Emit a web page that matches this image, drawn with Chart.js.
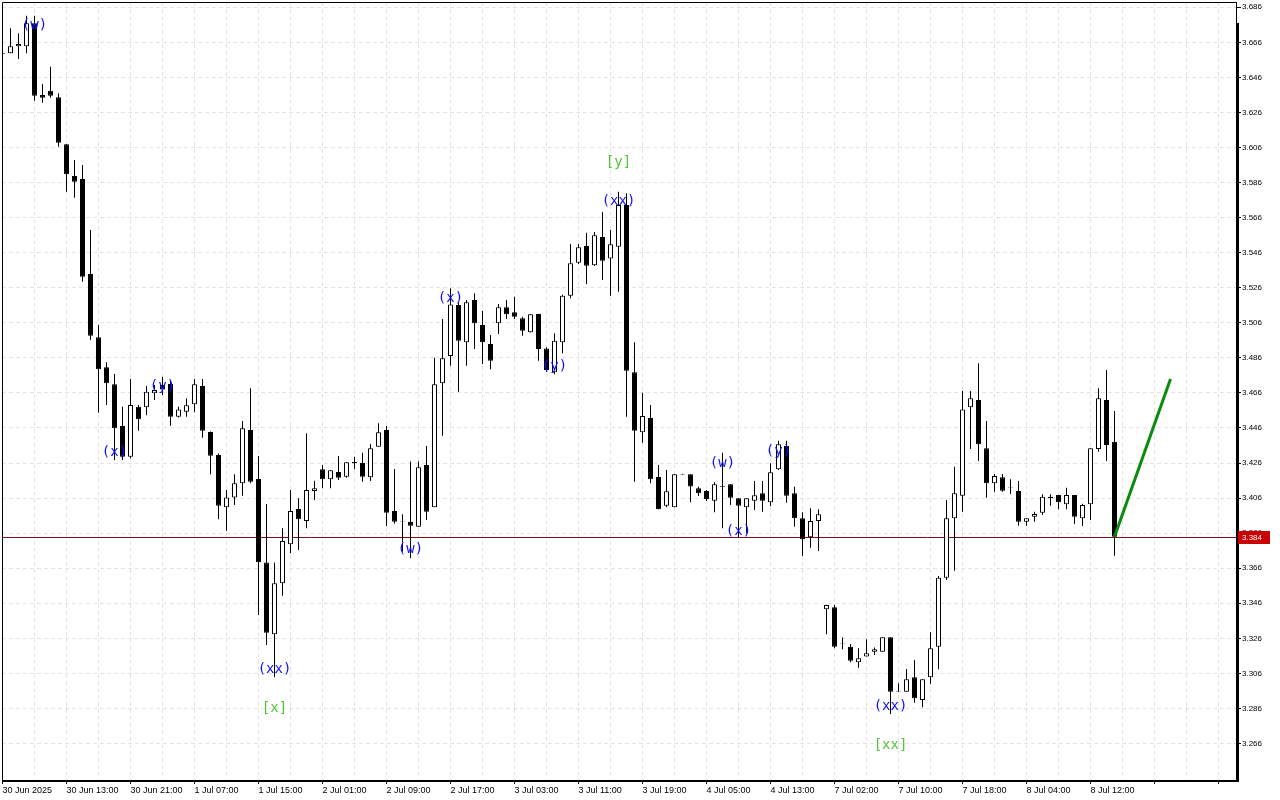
<!DOCTYPE html>
<html><head><meta charset="utf-8">
<script src="https://cdn.jsdelivr.net/npm/chart.js@4.4.1/dist/chart.umd.min.js"></script>
<style>html,body{margin:0;padding:0;background:#fff;overflow:hidden}#wrap{width:1280px;height:800px;position:relative}</style>
</head><body><div id="wrap"><canvas id="c" width="1280" height="800"></canvas></div>
<script>
// ---- data (hourly candles, bar index 0..139) ----
const opens = [3.6592,3.6597,3.6637,3.6637,3.6768,3.6360,3.6384,3.6346,3.6078,3.5897,
3.5880,3.5338,3.4977,3.4806,3.4709,3.4471,3.4296,3.4581,3.4578,3.4658,
3.4705,3.4711,3.4524,3.4553,3.4595,3.4699,3.4437,3.4306,3.4007,3.4064,
3.4144,3.4448,3.4169,3.3692,3.3283,3.3574,3.3796,3.3998,3.3929,3.4100,
3.4224,3.4167,3.4209,3.4182,3.4266,3.4260,3.4179,3.4353,3.4448,3.3986,
3.3928,3.3925,3.3897,3.4249,3.4007,3.4715,3.4871,3.5161,3.4949,3.5190,
3.5047,3.4939,3.5057,3.5148,3.5120,3.5086,3.5006,3.5110,3.4914,3.4778,
3.4949,3.5214,3.5403,3.5498,3.5388,3.5549,3.5426,3.5494,3.5732,3.4778,
3.4435,3.4517,3.4180,3.4016,3.4007,3.4196,3.4196,3.4116,3.4100,3.4045,
3.4128,3.4139,3.4059,3.4007,3.4045,3.4087,3.4036,3.4224,3.4357,3.4087,
3.3945,3.3836,3.3929,3.3426,3.3437,3.3234,3.3212,3.3123,3.3157,3.3184,
3.3184,3.3266,3.2957,3.2955,3.3038,3.2908,3.3038,3.3212,3.3606,3.3945,
3.4074,3.4578,3.4620,3.4344,3.4144,3.4179,3.4121,3.4100,3.3925,3.3954,
3.3977,3.4068,3.4078,3.4025,3.4078,3.3945,3.4025,3.4340,3.4620,3.4382];
const highs = [3.6600,3.6740,3.6711,3.6812,3.6812,3.6422,3.6521,3.6369,3.6080,3.5989,
3.5960,3.5589,3.5047,3.4835,3.4768,3.4581,3.4739,3.4591,3.4699,3.4705,
3.4752,3.4733,3.4581,3.4629,3.4739,3.4739,3.4440,3.4315,3.4106,3.4196,
3.4500,3.4686,3.4300,3.4026,3.3692,3.3888,3.4106,3.4059,3.4430,3.4159,
3.4249,3.4219,3.4300,3.4264,3.4296,3.4319,3.4369,3.4487,3.4471,3.4226,
3.3968,3.4268,3.4268,3.4357,3.4861,3.5082,3.5257,3.5177,3.5190,3.5228,
3.5127,3.4990,3.5167,3.5190,3.5209,3.5095,3.5110,3.5112,3.4920,3.5000,
3.5220,3.5509,3.5509,3.5574,3.5578,3.5692,3.5589,3.5808,3.5799,3.4949,
3.4661,3.4591,3.4249,3.4220,3.4196,3.4198,3.4196,3.4125,3.4106,3.4150,
3.4319,3.4140,3.4060,3.4059,3.4157,3.4157,3.4258,3.4387,3.4387,3.4125,
3.3979,3.4002,3.3996,3.3452,3.3450,3.3264,3.3228,3.3203,3.3254,3.3207,
3.3266,3.3266,3.3003,3.3085,3.3136,3.3026,3.3294,3.3615,3.4049,3.4239,
3.4671,3.4671,3.4829,3.4500,3.4197,3.4197,3.4167,3.4157,3.3945,3.3982,
3.4082,3.4082,3.4078,3.4119,3.4078,3.4027,3.4344,3.4686,3.4791,3.4557];
const lows = [3.6588,3.6597,3.6565,3.6597,3.6327,3.6315,3.6344,3.6064,3.5808,3.5773,
3.5294,3.4962,3.4547,3.4591,3.4277,3.4277,3.4287,3.4444,3.4533,3.4620,
3.4648,3.4473,3.4520,3.4524,3.4549,3.4404,3.4196,3.3939,3.3874,3.4021,
3.4074,3.4144,3.3393,3.3222,3.3038,3.3503,3.3745,3.3764,3.3888,3.4049,
3.4116,3.4116,3.4163,3.4176,3.4224,3.4153,3.4157,3.4353,3.3901,3.3914,
3.3754,3.3717,3.3897,3.3935,3.4007,3.4416,3.4815,3.4667,3.4815,3.4910,
3.4825,3.4795,3.4996,3.5082,3.5082,3.4986,3.5004,3.4844,3.4781,3.4766,
3.4886,3.5200,3.5395,3.5281,3.5384,3.5304,3.5214,3.5237,3.4524,3.4153,
3.4376,3.4144,3.3996,3.4007,3.4007,3.4193,3.4036,3.4072,3.4043,3.3979,
3.3888,3.4021,3.3831,3.3859,3.3992,3.3982,3.4015,3.4220,3.4034,3.3897,
3.3730,3.3777,3.3758,3.3283,3.3203,3.3197,3.3123,3.3092,3.3157,3.3165,
3.3184,3.2828,3.2955,3.2955,3.2893,3.2867,3.2999,3.3083,3.3593,3.3646,
3.3982,3.4340,3.4272,3.4062,3.4096,3.4096,3.4083,3.3902,3.3902,3.3925,
3.3964,3.4016,3.3996,3.3996,3.3912,3.3901,3.3935,3.4325,3.4272,3.3731];
const closes = [3.6597,3.6637,3.6650,3.6768,3.6355,3.6344,3.6355,3.6087,3.5907,3.5865,
3.5323,3.4986,3.4795,3.4715,3.4458,3.4296,3.4591,3.4509,3.4667,3.4677,
3.4680,3.4524,3.4566,3.4589,3.4709,3.4444,3.4302,3.4016,3.4064,3.4144,
3.4458,3.4153,3.3694,3.3292,3.3574,3.3815,3.3986,3.3939,3.4106,3.4116,
3.4167,3.4219,3.4176,3.4264,3.4258,3.4182,3.4344,3.4435,3.3977,3.3925,
3.3925,3.3902,3.4236,3.3982,3.4709,3.4857,3.5165,3.4958,3.5177,3.5057,
3.4949,3.4844,3.5148,3.5108,3.5095,3.5015,3.5108,3.4910,3.4791,3.4958,
3.5214,3.5399,3.5491,3.5386,3.5559,3.5414,3.5508,3.5732,3.4787,3.4444,
3.4528,3.4167,3.3996,3.4099,3.4196,3.4193,3.4126,3.4087,3.4055,3.4139,
3.4123,3.4062,3.4016,3.4059,3.4076,3.4045,3.4207,3.4367,3.4074,3.3945,
3.3825,3.3929,3.3968,3.3450,3.3212,3.3230,3.3132,3.3146,3.3175,3.3197,
3.3266,3.2955,3.2961,3.3026,3.2918,3.3026,3.3203,3.3606,3.3945,3.4087,
3.4566,3.4629,3.4367,3.4144,3.4186,3.4102,3.4118,3.3925,3.3945,3.3969,
3.4068,3.4059,3.4036,3.4078,3.3954,3.4021,3.4344,3.4629,3.4363,3.3840];

const xTickLabels = ['30 Jun 2025','30 Jun 13:00','30 Jun 21:00','1 Jul 07:00','1 Jul 15:00','2 Jul 01:00',
'2 Jul 09:00','2 Jul 17:00','3 Jul 03:00','3 Jul 11:00','3 Jul 19:00','4 Jul 05:00','4 Jul 13:00',
'7 Jul 02:00','7 Jul 10:00','7 Jul 18:00','8 Jul 04:00','8 Jul 12:00'];
const yTicks = [3.266,3.286,3.306,3.326,3.346,3.366,3.386,3.406,3.426,3.446,3.466,
3.486,3.506,3.526,3.546,3.566,3.586,3.606,3.626,3.646,3.666,3.686];

const waveLabels = ['(w)','(x)','(y)','(xx)','(w)','(x)','(y)','(xx)','(w)','(x)','(y)','(xx)'];
const waveBars   = [4,14,20,34,51,56,69,77,90,92,97,111];
const wavePrices = [3.6759,3.4323,3.4699,3.3085,3.3770,3.5201,3.4813,3.5755,3.4260,3.3872,3.4329,3.2874];
const degreeLabels = ['[x]','[y]','[xx]'];
const degreeBars   = [34,77,111];
const degreePrices = [3.2862,3.5977,3.2651];

const projBars   = [139,146];
const projPrices = [3.3840,3.4740];
const lastPrice = 3.384;

// ---- chart ----
const idx = opens.map((_, i) => i);
const bodyData = idx.map(i => ({x: i, y: [opens[i], closes[i]]}));
const wickData = idx.map(i => ({x: i, y: [lows[i], highs[i]]}));
const bodyFill = idx.map(i => closes[i] >= opens[i] ? '#ffffff' : '#000000');

const overlay = {
  id: 'overlay',
  beforeDatasetsDraw(chart) {
    const {ctx, chartArea: a, scales: {y}} = chart;
    const py = Math.round(y.getPixelForValue(lastPrice)) + 0.5;
    ctx.save();
    ctx.strokeStyle = '#7a1414'; ctx.lineWidth = 1;
    ctx.beginPath(); ctx.moveTo(a.left, py); ctx.lineTo(a.right, py); ctx.stroke();
    ctx.restore();
  },
  afterDraw(chart) {
    const {ctx, chartArea: a, scales: {x, y}} = chart;
    ctx.save();
    // frame
    ctx.strokeStyle = '#000'; ctx.lineWidth = 1;
    ctx.beginPath();
    ctx.moveTo(a.left + 0.5, a.bottom); ctx.lineTo(a.left + 0.5, a.top + 0.5);
    ctx.lineTo(a.right + 0.5, a.top + 0.5); ctx.lineTo(a.right + 0.5, a.bottom);
    ctx.stroke();
    ctx.lineWidth = 2;
    ctx.beginPath(); ctx.moveTo(a.left, a.bottom + 1); ctx.lineTo(a.right + 3, a.bottom + 1); ctx.stroke();
    ctx.fillStyle = '#000';
    ctx.fillRect(a.right, a.top + 21, 3, a.bottom - a.top - 19);
    // price box
    const py = Math.round(y.getPixelForValue(lastPrice));
    ctx.fillStyle = '#cc0000';
    ctx.fillRect(a.right + 2, py - 6, 32, 13);
    ctx.fillStyle = '#ffffff';
    ctx.font = '8px "Liberation Sans", Arial, sans-serif';
    ctx.textAlign = 'left'; ctx.textBaseline = 'middle';
    ctx.fillText(lastPrice.toFixed(3), a.right + 6, py + 1);
    // wave labels
    ctx.font = '14px "DejaVu Sans Mono", monospace';
    ctx.textAlign = 'center'; ctx.textBaseline = 'middle';
    ctx.fillStyle = '#1010ff';
    waveLabels.forEach((t, i) => ctx.fillText(t, x.getPixelForValue(waveBars[i]), y.getPixelForValue(wavePrices[i])));
    ctx.fillStyle = '#52c43a';
    degreeLabels.forEach((t, i) => ctx.fillText(t, x.getPixelForValue(degreeBars[i]), y.getPixelForValue(degreePrices[i])));
    ctx.restore();
  }
};

const gridBars = [];
for (let v = 0; v <= 152; v += 4) gridBars.push(v);

new Chart(document.getElementById('c'), {
  type: 'bar',
  data: {
    datasets: [
      {type: 'line', data: projBars.map((b, i) => ({x: b, y: projPrices[i]})), borderColor: '#0b8a0b',
       borderWidth: 3, pointRadius: 0, fill: false, order: 0, tension: 0},
      {type: 'bar', data: bodyData, backgroundColor: bodyFill, borderColor: '#000', borderWidth: 1,
       borderSkipped: false, barThickness: 5, grouped: false, inflateAmount: 0, order: 1},
      {type: 'bar', data: wickData, backgroundColor: '#000', borderWidth: 0,
       barThickness: 1, grouped: false, inflateAmount: 0, order: 2}
    ]
  },
  options: {
    responsive: false, animation: false, devicePixelRatio: 1, events: [],
    layout: {autoPadding: false, padding: {left: 2, top: 2, right: 0, bottom: 0}},
    plugins: {legend: {display: false}, tooltip: {enabled: false}, title: {display: false}},
    scales: {
      x: {
        type: 'linear', position: 'bottom', min: -0.0625, max: 154.1875, offset: false,
        afterFit: s => { s.height = 20; s.paddingLeft = 0; s.paddingRight = 0; s.paddingTop = 0; s.paddingBottom = 0; },
        afterBuildTicks: s => { s.ticks = gridBars.map(v => ({value: v})); },
        grid: {color: '#e3e3e3', offset: false, drawTicks: true, tickLength: 4, tickBorderDash: [],
               tickColor: c => (c.tick && c.tick.value % 8 === 0) ? '#000' : 'rgba(0,0,0,0)'},
        border: {display: true, color: '#000', width: 1, dash: [4, 3]},
        ticks: {autoSkip: false, maxRotation: 0, minRotation: 0, align: 'start', padding: 1,
                color: '#000', font: {family: '"Liberation Sans", Arial, sans-serif', size: 9},
                callback: v => (v % 8 === 0 && xTickLabels[v / 8]) ? xTickLabels[v / 8] : ''}
      },
      y: {
        type: 'linear', position: 'right', min: 3.24518, max: 3.68899, beginAtZero: false,
        afterFit: s => { s.width = 44; s.paddingLeft = 0; s.paddingRight = 0; s.paddingTop = 0; s.paddingBottom = 0; },
        afterBuildTicks: s => { s.ticks = yTicks.map(v => ({value: v})); },
        grid: {color: '#e3e3e3', drawTicks: true, tickLength: 5, tickColor: '#000', tickBorderDash: []},
        border: {display: true, color: '#000', width: 1, dash: [4, 3]},
        ticks: {padding: 1, color: '#000', font: {family: '"Liberation Sans", Arial, sans-serif', size: 8},
                callback: v => Number(v).toFixed(3)}
      }
    }
  },
  plugins: [overlay]
});
</script>
</body></html>
